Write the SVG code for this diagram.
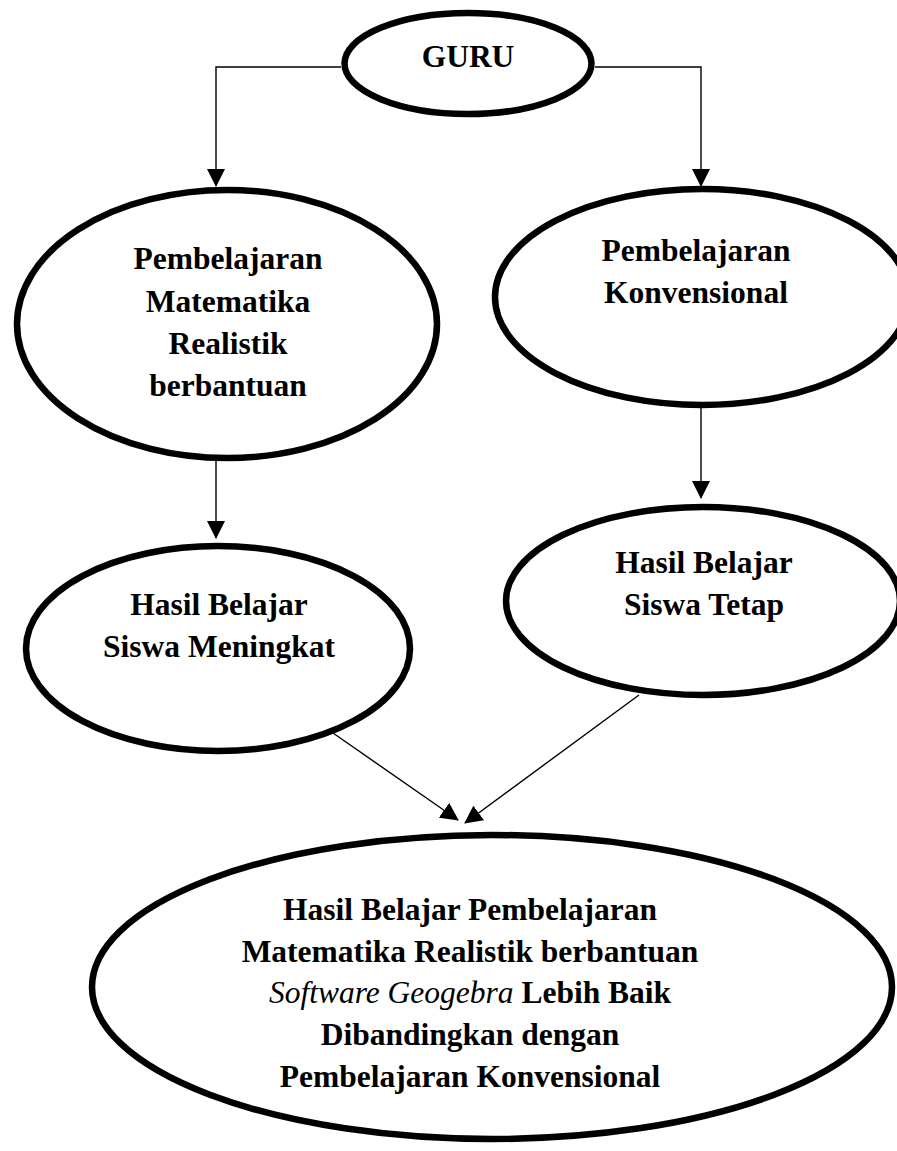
<svg xmlns="http://www.w3.org/2000/svg" width="897" height="1151" viewBox="0 0 897 1151">
<defs>
<style>
.node{fill:#fff;stroke:#000;stroke-width:6.5}
.lbl{font-family:"Liberation Serif","Times New Roman",serif;font-weight:bold;font-size:31.5px;fill:#000;text-anchor:middle}
.it{font-style:italic;font-weight:normal}
.con{fill:none;stroke:#000;stroke-width:1.4}
</style>
<marker id="ah" markerUnits="userSpaceOnUse" markerWidth="18" markerHeight="18" viewBox="0 0 18 18" refX="17" refY="9" orient="auto">
<path d="M0,0 L18,9 L0,18 Z" fill="#000"/>
</marker>
</defs>
<rect width="897" height="1151" fill="#fff"/>
<g id="connectors">
<polyline class="con" points="341,67 216,67 216,186" marker-end="url(#ah)"/>
<polyline class="con" points="595,67 701,67 701,186" marker-end="url(#ah)"/>
<line class="con" x1="216" y1="460" x2="216" y2="538" marker-end="url(#ah)"/>
<line class="con" x1="701" y1="408" x2="701" y2="498" marker-end="url(#ah)"/>
<line class="con" x1="333" y1="733" x2="458" y2="820" marker-end="url(#ah)"/>
<line class="con" x1="639" y1="695" x2="465" y2="823" marker-end="url(#ah)"/>
</g>
<g id="guru">
<ellipse class="node" cx="468" cy="63.5" rx="123.5" ry="50.5"/>
<text class="lbl" x="468" y="67">GURU</text>
</g>
<g id="pmr">
<ellipse class="node" cx="227" cy="324" rx="210" ry="134"/>
<text class="lbl" x="228" y="269">Pembelajaran</text>
<text class="lbl" x="228" y="312">Matematika</text>
<text class="lbl" x="228" y="354">Realistik</text>
<text class="lbl" x="228" y="396">berbantuan</text>
</g>
<g id="konvensional">
<ellipse class="node" cx="702" cy="297" rx="207" ry="108"/>
<text class="lbl" x="696" y="261">Pembelajaran</text>
<text class="lbl" x="696" y="303">Konvensional</text>
</g>
<g id="meningkat">
<ellipse class="node" cx="218" cy="648.5" rx="192" ry="102.5"/>
<text class="lbl" x="219" y="615">Hasil Belajar</text>
<text class="lbl" x="219" y="657">Siswa Meningkat</text>
</g>
<g id="tetap">
<ellipse class="node" cx="703" cy="601" rx="197" ry="94"/>
<text class="lbl" x="704" y="573">Hasil Belajar</text>
<text class="lbl" x="704" y="615">Siswa Tetap</text>
</g>
<g id="hasil">
<ellipse class="node" cx="492" cy="987" rx="400" ry="152"/>
<text class="lbl" x="470" y="920">Hasil Belajar Pembelajaran</text>
<text class="lbl" x="470" y="962">Matematika Realistik berbantuan</text>
<text class="lbl" x="470" y="1003"><tspan class="it">Software Geogebra</tspan> Lebih Baik</text>
<text class="lbl" x="470" y="1045">Dibandingkan dengan</text>
<text class="lbl" x="470" y="1087">Pembelajaran Konvensional</text>
</g>
</svg>
